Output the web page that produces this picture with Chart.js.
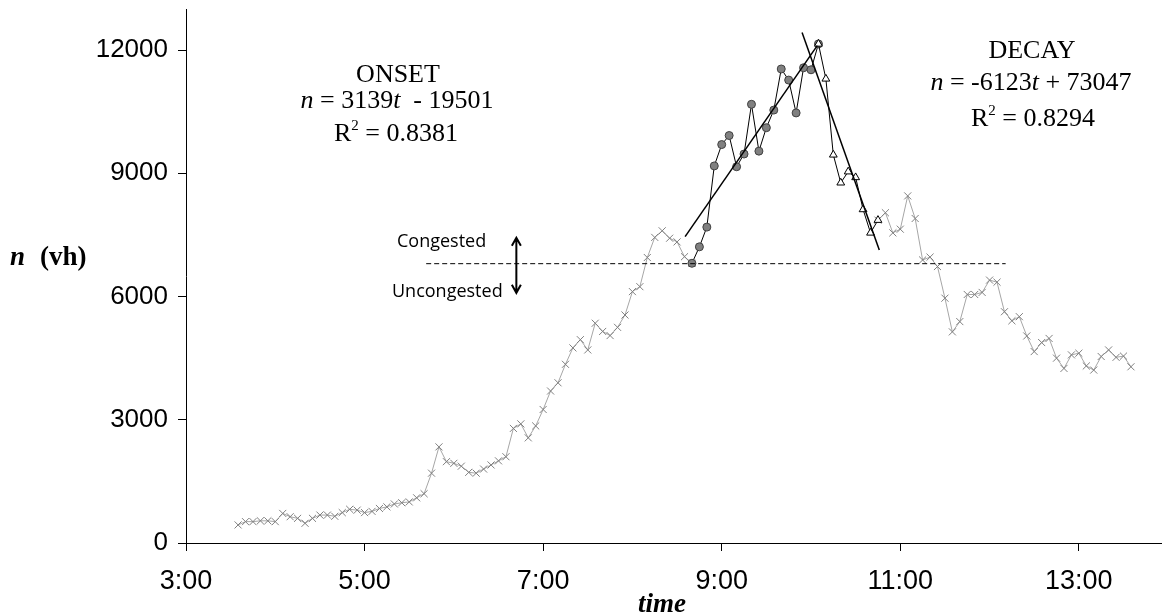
<!DOCTYPE html>
<html>
<head>
<meta charset="utf-8">
<script src="https://cdn.jsdelivr.net/npm/chart.js@4.4.0/dist/chart.umd.min.js"></script>
<style>
  html, body { margin: 0; padding: 0; background: #fff; }
  canvas { display: block; }
</style>
</head>
<body>
<canvas id="grafica" width="1167" height="616"></canvas>
<script>
// Conteos n (vh) cada 5 minutos
const earlyTimes = ['3:35','3:40','3:45','3:50','3:55','4:00','4:05','4:10','4:15','4:20','4:25','4:30','4:35','4:40','4:45','4:50','4:55',
  '5:00','5:05','5:10','5:15','5:20','5:25','5:30','5:35','5:40','5:45','5:50','5:55',
  '6:00','6:05','6:10','6:15','6:20','6:25','6:30','6:35','6:40','6:45','6:50','6:55',
  '7:00','7:05','7:10','7:15','7:20','7:25','7:30','7:35','7:40','7:45','7:50','7:55',
  '8:00','8:05','8:10','8:15','8:20','8:25','8:30','8:35','8:40'];
const earlyN = [440,520,520,540,540,520,720,640,600,480,600,680,680,650,740,820,800,
  740,770,840,880,950,980,1000,1100,1200,1700,2340,1980,
  1940,1870,1720,1700,1800,1900,2000,2100,2790,2900,2560,2850,
  3250,3700,3900,4350,4750,4950,4700,5350,5150,5050,5250,5550,
  6120,6240,6950,7440,7600,7420,7330,6970,6810];

const onsetTimes = ['8:40','8:45','8:50','8:55','9:00','9:05','9:10','9:15','9:20','9:25','9:30','9:35','9:40','9:45','9:50','9:55','10:00','10:05'];
const onsetN = [6810,7210,7690,9180,9700,9920,9160,9470,10680,9540,10110,10540,11540,11270,10470,11570,11520,12150];

const decayTimes = ['10:05','10:10','10:15','10:20','10:25','10:30','10:35','10:40','10:45'];
const decayN = [12150,11300,9450,8770,9040,8900,8120,7550,7860];

const lateTimes = ['10:45','10:50','10:55','11:00','11:05','11:10','11:15','11:20','11:25','11:30','11:35','11:40','11:45','11:50','11:55',
  '12:00','12:05','12:10','12:15','12:20','12:25','12:30','12:35','12:40','12:45','12:50','12:55',
  '13:00','13:05','13:10','13:15','13:20','13:25','13:30','13:35'];
const lateN = [7860,8040,7550,7640,8450,7900,6890,6960,6730,5960,5140,5390,6050,6050,6100,
  6400,6350,5630,5410,5510,5040,4660,4880,4980,4500,4250,4580,
  4620,4310,4210,4540,4700,4520,4550,4290];

// Rectas de ajuste (extremos)
const onsetFitT = [8.59, 10.07];
const onsetFitN = [7460, 12110];
const decayFitT = [9.90, 10.765];
const decayFitN = [12430, 7130];

// Umbral congestionado / no congestionado
const thresholdT = [5.69, 12.18];
const thresholdN = [6800, 6800];
const arrowT = 6.70;
const arrowN = [6090, 7430];

const xTicks = [3, 5, 7, 9, 11, 13];
const yTicks = [0, 3000, 6000, 9000, 12000];

const toHours = s => { const [h, m] = s.split(':'); return Number(h) + Number(m) / 60; };
const pts = (ts, ns) => ts.map((t, i) => ({ x: typeof t === 'string' ? toHours(t) : t, y: ns[i] }));

const SERIF = '"Liberation Serif", "Times New Roman", serif';
const SANS = '"Liberation Sans", Arial, sans-serif';

// Texto con varias fuentes en una linea (cursivas, superindices)
function drawRich(ctx, parts, cx, y) {
    let w = 0;
    parts.forEach(p => { ctx.font = p.f; w += ctx.measureText(p.t).width; });
    let x = cx - w / 2;
    parts.forEach(p => {
        ctx.font = p.f;
        ctx.fillText(p.t, x, y + (p.dy || 0));
        x += ctx.measureText(p.t).width;
    });
}

const annotations = {
    id: 'annotations',
    afterDatasetsDraw(chart) {
        const ctx = chart.ctx;
        const xs = chart.scales.x, ys = chart.scales.y;
        ctx.save();
        // flecha doble
        const ax = xs.getPixelForValue(arrowT);
        const yLo = ys.getPixelForValue(arrowN[0]);
        const yHi = ys.getPixelForValue(arrowN[1]);
        ctx.strokeStyle = '#000';
        ctx.lineWidth = 2;
        ctx.beginPath();
        ctx.moveTo(ax, yLo); ctx.lineTo(ax, yHi);
        ctx.moveTo(ax - 4.5, yHi + 8); ctx.lineTo(ax, yHi); ctx.lineTo(ax + 4.5, yHi + 8);
        ctx.moveTo(ax - 4.5, yLo - 8); ctx.lineTo(ax, yLo); ctx.lineTo(ax + 4.5, yLo - 8);
        ctx.stroke();

        ctx.fillStyle = '#000';
        ctx.textBaseline = 'alphabetic';
        ctx.textAlign = 'left';
        ctx.font = '18px "Open Sans", sans-serif';
        ctx.fillText('Congested', 397, 247);
        ctx.fillText('Uncongested', 392, 297);

        const f = '26px ' + SERIF;
        const fi = 'italic 26px ' + SERIF;
        const fs = '15px ' + SERIF;
        drawRich(ctx, [{ t: 'ONSET', f }], 398, 82);
        drawRich(ctx, [{ t: 'n', f: fi }, { t: ' = 3139', f }, { t: 't', f: fi }, { t: '  - 19501', f }], 397, 108);
        drawRich(ctx, [{ t: 'R', f }, { t: '2', f: fs, dy: -11 }, { t: ' = 0.8381', f }], 396, 141);

        drawRich(ctx, [{ t: 'DECAY', f }], 1032, 58);
        drawRich(ctx, [{ t: 'n', f: fi }, { t: ' = -6123', f }, { t: 't', f: fi }, { t: ' + 73047', f }], 1031, 90);
        drawRich(ctx, [{ t: 'R', f }, { t: '2', f: fs, dy: -11 }, { t: ' = 0.8294', f }], 1033, 126);

        // titulos de ejes
        ctx.font = 'italic bold 27px ' + SERIF;
        ctx.fillText('n', 10, 265);
        ctx.font = 'bold 27px ' + SERIF;
        ctx.fillText('(vh)', 40, 265);
        drawRich(ctx, [{ t: 'time', f: 'italic bold 27px ' + SERIF }], 662, 612);
        ctx.restore();
    }
};

const grayLine = {
    borderColor: '#a6a6a6',
    borderWidth: 1,
    pointStyle: 'crossRot',
    pointRadius: 5,
    pointBorderColor: '#808080',
    pointBorderWidth: 1,
    showLine: true,
    order: 5
};

new Chart(document.getElementById('grafica').getContext('2d'), {
    type: 'scatter',
    data: {
        datasets: [
            Object.assign({ label: 'antes', data: pts(earlyTimes, earlyN) }, grayLine),
            Object.assign({ label: 'despues', data: pts(lateTimes, lateN) }, grayLine),
            {
                label: 'onset', data: pts(onsetTimes, onsetN), showLine: true,
                borderColor: '#000', borderWidth: 1,
                pointStyle: 'circle', pointRadius: 4, pointBackgroundColor: '#808080',
                pointBorderColor: '#404040', pointBorderWidth: 1, order: 4
            },
            {
                label: 'decay', data: pts(decayTimes, decayN), showLine: true,
                borderColor: '#000', borderWidth: 1,
                pointStyle: 'triangle', pointRadius: 4.5, pointBackgroundColor: '#fff',
                pointBorderColor: '#000', pointBorderWidth: 1, order: 3
            },
            {
                label: 'ajuste onset', data: pts(onsetFitT, onsetFitN), showLine: true,
                borderColor: '#000', borderWidth: 1.5, pointRadius: 0, order: 2
            },
            {
                label: 'ajuste decay', data: pts(decayFitT, decayFitN), showLine: true,
                borderColor: '#000', borderWidth: 1.5, pointRadius: 0, order: 2
            },
            {
                label: 'umbral', data: pts(thresholdT, thresholdN), showLine: true,
                borderColor: '#000', borderWidth: 1, borderDash: [5, 3], pointRadius: 0, order: 1
            }
        ]
    },
    options: {
        responsive: false,
        animation: false,
        devicePixelRatio: 1,
        layout: { padding: { left: 0, right: 0, top: 9, bottom: 0 } },
        plugins: { legend: { display: false }, tooltip: { enabled: false } },
        scales: {
            x: {
                type: 'linear', min: 3, max: 13.92,
                afterBuildTicks: s => { s.ticks = xTicks.map(v => ({ value: v })); },
                afterFit: s => { s.height = 73; s.paddingLeft = 0; s.paddingRight = 0; s.paddingTop = 0; s.paddingBottom = 0; },
                ticks: {
                    callback: v => v + ':00',
                    color: '#000', font: { family: SANS, size: 27 }, padding: 14, maxRotation: 0, autoSkip: false
                },
                grid: { drawOnChartArea: false, drawTicks: true, tickLength: 8, color: '#000' },
                border: { color: '#000', width: 1 }
            },
            y: {
                min: 0, max: 13000,
                afterBuildTicks: s => { s.ticks = yTicks.map(v => ({ value: v })); },
                afterFit: s => { s.width = 186; s.paddingLeft = 0; s.paddingRight = 0; s.paddingTop = 0; s.paddingBottom = 0; },
                ticks: {
                    callback: v => String(v),
                    color: '#000', font: { family: SANS, size: 26 }, padding: 10
                },
                grid: { drawOnChartArea: false, drawTicks: true, tickLength: 8, color: '#000' },
                border: { color: '#000', width: 1 }
            }
        }
    },
    plugins: [annotations]
});
</script>
</body>
</html>
